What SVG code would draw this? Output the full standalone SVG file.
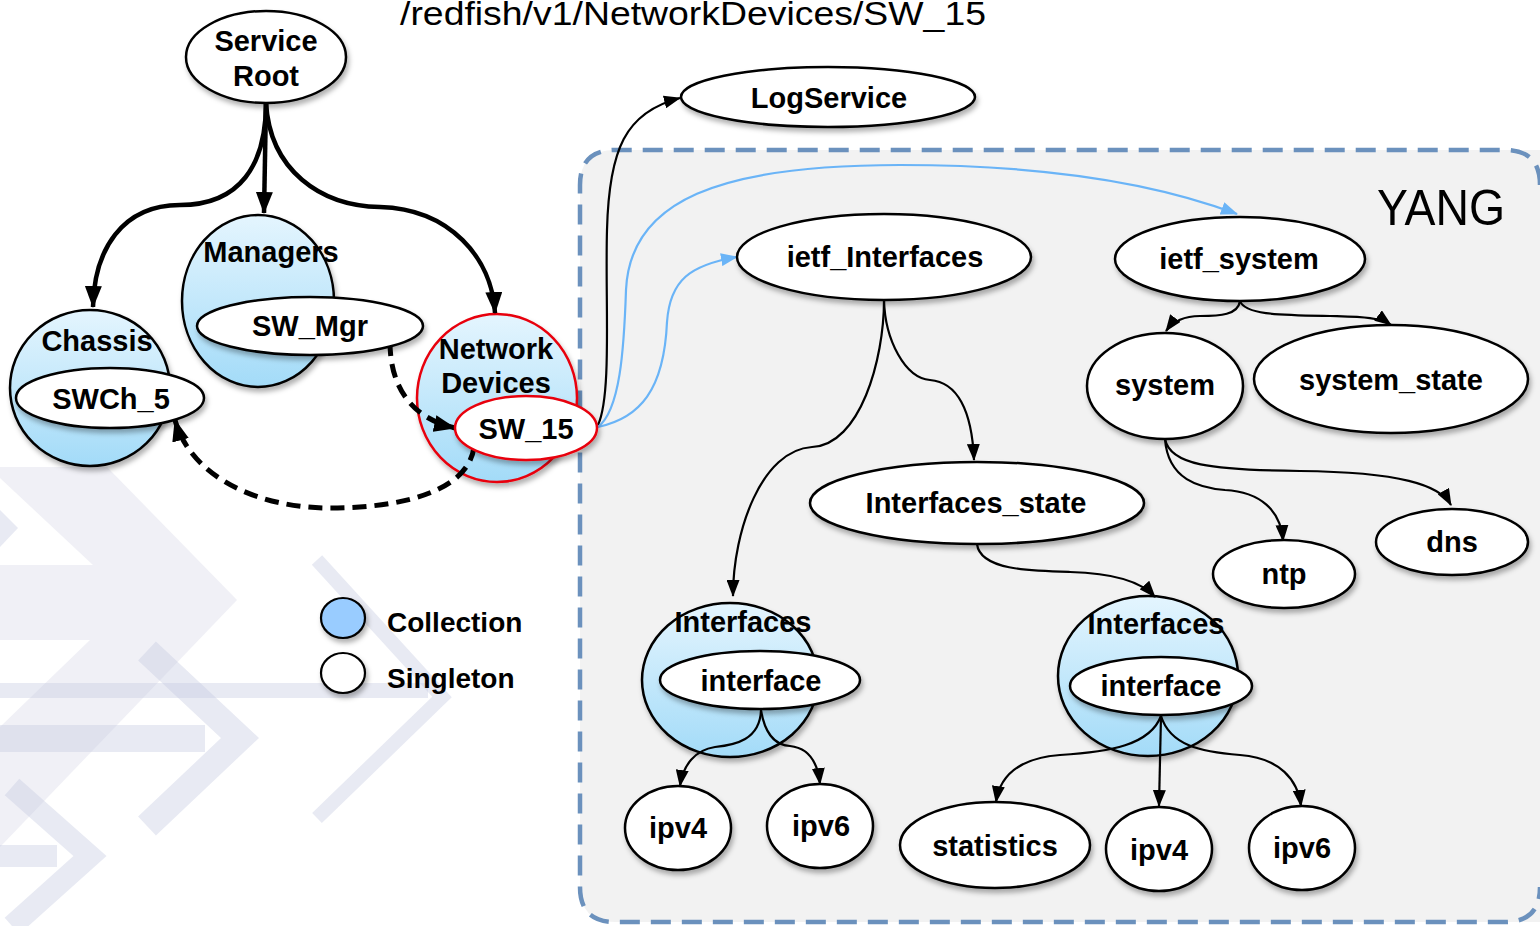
<svg xmlns="http://www.w3.org/2000/svg" width="1540" height="926" viewBox="0 0 1540 926">
  <defs>
    <style>
      .lbl { font-family: "Liberation Sans", Arial, sans-serif; font-weight: bold; font-size: 29px; fill: #000; text-anchor: middle; }
      .leg { font-family: "Liberation Sans", Arial, sans-serif; font-weight: bold; font-size: 28px; fill: #000; }
      .single { fill: #fff; stroke: #000; stroke-width: 2.5; filter: url(#shadow); }
      .coll { fill: url(#collFill); stroke: #000; stroke-width: 2.5; filter: url(#shadow); }
      .red { stroke: #e8000b; }
      .edge { fill: none; stroke: #000; stroke-width: 2.2; marker-end: url(#ah); }
      .edge-blue { fill: none; stroke: #6ab4f7; stroke-width: 2.2; marker-end: url(#ahBlue); }
      .edge-thick { fill: none; stroke: #000; stroke-width: 4.5; marker-end: url(#ahThick); }
      .edge-dash { fill: none; stroke: #000; stroke-width: 5; stroke-dasharray: 14 8; marker-end: url(#ahThick); }
      .wm { fill: #c6cbe2; fill-opacity: 0.4; }
      .wm-line { fill: none; stroke: #c6cbe2; stroke-opacity: 0.4; stroke-linecap: butt; stroke-linejoin: miter; }
    </style>
    <linearGradient id="collFill" x1="0" y1="0" x2="0" y2="1">
      <stop offset="0" stop-color="#e4f5fe"/>
      <stop offset="1" stop-color="#a3dbf8"/>
    </linearGradient>
    <filter id="shadow" x="-20%" y="-20%" width="140%" height="150%">
      <feDropShadow dx="2" dy="4" stdDeviation="2.5" flood-color="#000" flood-opacity="0.3"/>
    </filter>
    <marker id="ah" markerUnits="userSpaceOnUse" markerWidth="17" markerHeight="13" viewBox="0 0 17 13" refX="16" refY="6.5" orient="auto">
      <path d="M0,0 L17,6.5 L0,13 z" fill="#000"/>
    </marker>
    <marker id="ahBlue" markerUnits="userSpaceOnUse" markerWidth="17" markerHeight="13" viewBox="0 0 17 13" refX="16" refY="6.5" orient="auto">
      <path d="M0,0 L17,6.5 L0,13 z" fill="#6ab4f7"/>
    </marker>
    <marker id="ahThick" markerUnits="userSpaceOnUse" markerWidth="22" markerHeight="17" viewBox="0 0 22 17" refX="21" refY="8.5" orient="auto">
      <path d="M0,0 L22,8.5 L0,17 z" fill="#000"/>
    </marker>
  </defs>

  <rect width="1540" height="926" fill="#fff"/>

  <!-- faint chevron watermark, lower left -->
  <g id="watermark">
    <!-- large pale arrowhead with its two inner cut-outs -->
    <polygon points="0,467 107,467 237,600 0,847" fill="#f0f0f6"/>
    <polygon points="0,478 93,565 0,565" fill="#fff"/>
    <polygon points="0,640 90,640 0,727" fill="#fff"/>
    <polygon class="wm" points="0,510 18,528 0,547"/>
    <!-- shafts -->
    <rect class="wm" x="0" y="683" width="428" height="15"/>
    <rect class="wm" x="0" y="725" width="205" height="27"/>
    <rect class="wm" x="0" y="845" width="57" height="22"/>
    <!-- chevrons -->
    <polyline class="wm-line" points="147,651 240,738 147,826" stroke-width="26"/>
    <polyline class="wm-line" points="317,560 442,697 317,818" stroke-width="14"/>
    <polyline class="wm-line" points="12,787 90,856 12,926" stroke-width="22"/>
  </g>

  <!-- YANG container -->
  <g id="yang">
    <path d="M1540,150 L615,150 Q580,150 580,185 L580,887 Q580,922 615,922 L1540,922" fill="#f2f2f2" stroke="none"/>
    <path d="M1540,185 Q1540,150 1505,150 L615,150 Q580,150 580,185 L580,887 Q580,922 615,922 L1505,922 Q1540,922 1540,887" fill="none" stroke="#6b91bd" stroke-width="4.5" stroke-dasharray="20 11"/>
    <text x="1377" y="225" font-family="'Liberation Sans', Arial, sans-serif" font-size="50" textLength="128" lengthAdjust="spacingAndGlyphs" fill="#000">YANG</text>
  </g>

  <text id="title" x="400" y="25" font-family="'Liberation Sans', Arial, sans-serif" font-size="33" textLength="586" lengthAdjust="spacingAndGlyphs" fill="#000">/redfish/v1/NetworkDevices/SW_15</text>

  <!-- collection containers -->
  <g id="chassis">
    <ellipse class="coll" cx="90" cy="388" rx="80" ry="78"/>
    <text class="lbl" x="97" y="351">Chassis</text>
  </g>
  <g id="managers">
    <ellipse class="coll" cx="258" cy="301" rx="76" ry="86"/>
    <text class="lbl" x="271" y="262">Managers</text>
  </g>
  <g id="network-devices">
    <ellipse class="coll red" cx="497" cy="398" rx="80" ry="84"/>
    <text class="lbl" x="496" y="359">Network</text>
    <text class="lbl" x="496" y="393">Devices</text>
  </g>
  <g id="interfaces-cfg">
    <ellipse class="coll" cx="730" cy="680" rx="88" ry="77"/>
    <text class="lbl" x="743" y="632">Interfaces</text>
  </g>
  <g id="interfaces-state-list">
    <ellipse class="coll" cx="1148" cy="676" rx="90" ry="80"/>
    <text class="lbl" x="1156" y="634">Interfaces</text>
  </g>

  <!-- connectors -->
  <g id="connectors">
    <path class="edge-thick" d="M266,103 C266,165 240,205 180,205 C122,205 94,250 93,307"/>
    <path class="edge-thick" d="M266,103 L264,213"/>
    <path class="edge-thick" d="M266,103 C270,170 320,206 380,207 C450,209 492,258 495,313"/>
    <path class="edge-dash" d="M390,342 C390,385 410,418 455,428"/>
    <path class="edge-dash" d="M474,447 C468,492 400,508 330,508 C255,508 190,475 175,420"/>
    <path class="edge" d="M598,425 C612,395 605,300 607,230 C609,150 625,112 680,98"/>
    <path class="edge-blue" d="M598,427 C640,418 664,390 667,322 C670,280 690,265 737,257"/>
    <path class="edge-blue" d="M598,427 C620,410 624,350 626,290 C630,200 720,165 900,165 C1050,165 1160,185 1237,214"/>
    <path class="edge" d="M884,300 C884,360 860,445 812,447 C762,450 733,530 733,596"/>
    <path class="edge" d="M884,300 C885,340 905,378 930,380 C957,382 972,410 974,460"/>
    <path class="edge" d="M977,544 C980,570 1030,571 1070,572 C1110,573 1140,580 1155,597"/>
    <path class="edge" d="M1240,301 C1238,315 1220,316 1200,316 C1185,316 1174,320 1166,331"/>
    <path class="edge" d="M1240,301 C1245,315 1280,315 1330,316 C1360,317 1380,317 1391,325"/>
    <path class="edge" d="M1165,439 C1168,480 1200,488 1225,490 C1260,492 1281,510 1283,541"/>
    <path class="edge" d="M1165,439 C1170,465 1210,470 1300,471 C1400,472 1440,485 1451,505"/>
    <path class="edge" d="M761,710 C760,740 735,745 715,747 C695,750 683,765 680,786"/>
    <path class="edge" d="M761,710 C765,735 775,745 790,746 C810,748 818,765 820,784"/>
    <path class="edge" d="M1161,716 C1150,745 1110,752 1060,755 C1020,758 1000,775 996,802"/>
    <path class="edge" d="M1161,716 L1159,806"/>
    <path class="edge" d="M1161,716 C1170,745 1200,752 1240,755 C1280,758 1298,780 1301,806"/>
  </g>

  <!-- singleton resources -->
  <g id="service-root">
    <ellipse class="single" cx="266" cy="57" rx="80" ry="46"/>
    <text class="lbl" x="266" y="51">Service</text>
    <text class="lbl" x="266" y="86">Root</text>
  </g>
  <g id="sw-mgr">
    <ellipse class="single" cx="310" cy="326" rx="113" ry="29"/>
    <text class="lbl" x="310" y="336">SW_Mgr</text>
  </g>
  <g id="swch-5">
    <ellipse class="single" cx="110" cy="398" rx="94" ry="30"/>
    <text class="lbl" x="111" y="409">SWCh_5</text>
  </g>
  <g id="sw-15">
    <ellipse class="single red" cx="526" cy="428" rx="71" ry="32"/>
    <text class="lbl" x="526" y="439">SW_15</text>
  </g>
  <g id="log-service">
    <ellipse class="single" cx="828" cy="97" rx="147" ry="30"/>
    <text class="lbl" x="829" y="108">LogService</text>
  </g>
  <g id="ietf-interfaces">
    <ellipse class="single" cx="884" cy="257" rx="147" ry="43"/>
    <text class="lbl" x="885" y="267">ietf_Interfaces</text>
  </g>
  <g id="ietf-system">
    <ellipse class="single" cx="1240" cy="259" rx="125" ry="42"/>
    <text class="lbl" x="1239" y="269">ietf_system</text>
  </g>
  <g id="system">
    <ellipse class="single" cx="1165" cy="386" rx="78" ry="53"/>
    <text class="lbl" x="1165" y="395">system</text>
  </g>
  <g id="system-state">
    <ellipse class="single" cx="1391" cy="379" rx="137" ry="54"/>
    <text class="lbl" x="1391" y="390">system_state</text>
  </g>
  <g id="interfaces-state">
    <ellipse class="single" cx="977" cy="503" rx="167" ry="41"/>
    <text class="lbl" x="976" y="513">Interfaces_state</text>
  </g>
  <g id="ntp">
    <ellipse class="single" cx="1284" cy="574" rx="71" ry="34"/>
    <text class="lbl" x="1284" y="584">ntp</text>
  </g>
  <g id="dns">
    <ellipse class="single" cx="1452" cy="542" rx="76" ry="33"/>
    <text class="lbl" x="1452" y="552">dns</text>
  </g>
  <g id="interface-cfg">
    <ellipse class="single" cx="760" cy="680" rx="100" ry="29"/>
    <text class="lbl" x="761" y="691">interface</text>
  </g>
  <g id="interface-state">
    <ellipse class="single" cx="1161" cy="686" rx="91" ry="29"/>
    <text class="lbl" x="1161" y="696">interface</text>
  </g>
  <g id="ipv4-cfg">
    <ellipse class="single" cx="678" cy="828" rx="53" ry="42"/>
    <text class="lbl" x="678" y="838">ipv4</text>
  </g>
  <g id="ipv6-cfg">
    <ellipse class="single" cx="820" cy="826" rx="53" ry="42"/>
    <text class="lbl" x="821" y="836">ipv6</text>
  </g>
  <g id="statistics">
    <ellipse class="single" cx="995" cy="845" rx="95" ry="43"/>
    <text class="lbl" x="995" y="856">statistics</text>
  </g>
  <g id="ipv4-state">
    <ellipse class="single" cx="1159" cy="849" rx="53" ry="42"/>
    <text class="lbl" x="1159" y="860">ipv4</text>
  </g>
  <g id="ipv6-state">
    <ellipse class="single" cx="1302" cy="848" rx="53" ry="42"/>
    <text class="lbl" x="1302" y="858">ipv6</text>
  </g>

  <!-- legend -->
  <g id="legend">
    <ellipse cx="343" cy="618" rx="22" ry="20" fill="#99ccff" stroke="#000" stroke-width="2.2" filter="url(#shadow)"/>
    <text class="leg" x="387" y="632">Collection</text>
    <ellipse cx="343" cy="673" rx="22" ry="20" fill="#fff" stroke="#000" stroke-width="2.2" filter="url(#shadow)"/>
    <text class="leg" x="387" y="688">Singleton</text>
  </g>
</svg>
